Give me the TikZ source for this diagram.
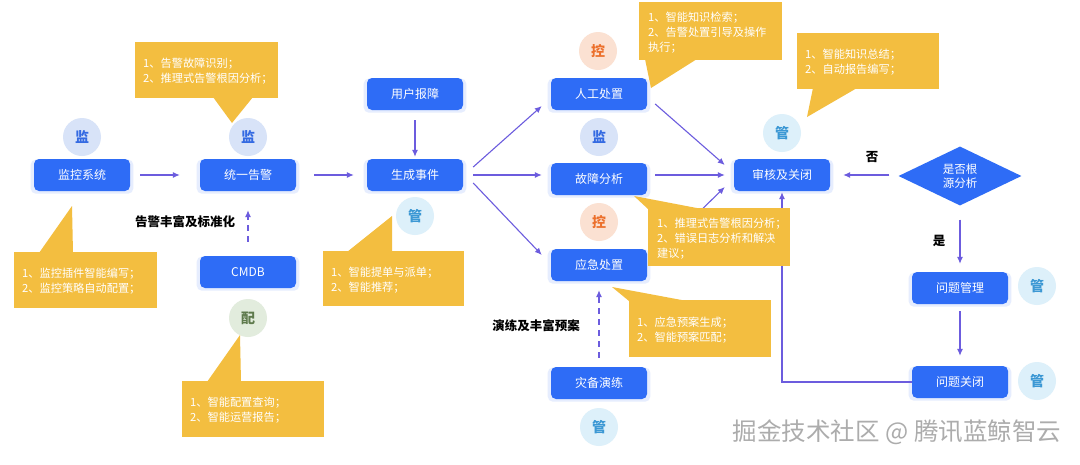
\documentclass[tikz,border=0pt]{standalone}
\usepackage{fontspec}
\setmainfont{Noto Sans CJK SC}
\usetikzlibrary{shapes.geometric,calc,shadows,arrows.meta}
\definecolor{boxblue}{RGB}{46,108,246}
\definecolor{arrowpurple}{RGB}{108,92,222}
\definecolor{calloutyellow}{RGB}{243,190,64}
\definecolor{watchfill}{RGB}{216,227,248}
\definecolor{watchtext}{RGB}{52,106,226}
\definecolor{managefill}{RGB}{221,240,250}
\definecolor{managetext}{RGB}{60,152,212}
\definecolor{controlfill}{RGB}{251,225,210}
\definecolor{controltext}{RGB}{236,112,44}
\definecolor{configfill}{RGB}{226,236,221}
\definecolor{configtext}{RGB}{94,122,76}
\tikzset{
    stagebox/.style={fill=boxblue, text=white, rounded corners=5pt,
        minimum width=96pt, minimum height=32pt, inner sep=0pt,
        font=\fontsize{12}{14}\selectfont,
        general shadow={fill=boxblue!12, shadow scale=1.07, shadow yshift=-1.5pt}},
    badge/.style={circle, minimum size=38pt, inner sep=0pt,
        font=\bfseries\fontsize{14}{14}\selectfont},
    watchbadge/.style={badge, fill=watchfill, text=watchtext},
    managebadge/.style={badge, fill=managefill, text=managetext},
    controlbadge/.style={badge, fill=controlfill, text=controltext},
    configbadge/.style={badge, fill=configfill, text=configtext},
    callout/.style={fill=calloutyellow},
    callouttext/.style={text=white, align=left, anchor=north west, inner sep=0pt,
        font=\fontsize{11.2}{15}\selectfont},
    steplabel/.style={font=\bfseries\fontsize{12.5}{12.5}\selectfont},
    arr/.style={draw=arrowpurple, line width=1.1pt, -{Latex[length=7pt,width=6pt]}},
    dasharr/.style={arr, dash pattern=on 6pt off 5pt}
}
\begin{document}
\begin{tikzpicture}[x=1pt,y=-1pt]
    \fill[white] (0,0) rectangle (1080,464);
    \useasboundingbox (0,0) rectangle (1080,464);

    \node[stagebox] (mon) at (82,175) {监控系统};
    \node[stagebox] (alarm) at (248,175) {统一告警};
    \node[stagebox] (cmdb) at (248,272) {CMDB};
    \node[stagebox] (report) at (415,94) {用户报障};
    \node[stagebox] (evt) at (415,175) {生成事件};
    \node[stagebox] (manual) at (599,94) {人工处置};
    \node[stagebox] (diag) at (599,179) {故障分析};
    \node[stagebox] (emer) at (599,265) {应急处置};
    \node[stagebox] (drill) at (599,383) {灾备演练};
    \node[stagebox] (review) at (782,175) {审核及关闭};
    \node[diamond, aspect=2, fill=boxblue, text=white, minimum width=123pt,
        minimum height=59pt, inner sep=0pt, align=center,
        font=\fontsize{11.5}{14}\selectfont] (root) at (960,176) {是否根\\源分析};
    \node[stagebox] (pm) at (960,288) {问题管理};
    \node[stagebox] (pc) at (960,382) {问题关闭};

    \node[watchbadge] (b1) at (82,137) {监};
    \node[watchbadge] (b2) at (248,137) {监};
    \node[managebadge] (b3) at (415,216) {管};
    \node[controlbadge] (b4) at (598,51) {控};
    \node[watchbadge] (b5) at (599,137) {监};
    \node[controlbadge] (b6) at (599,222) {控};
    \node[managebadge] (b7) at (599,427) {管};
    \node[managebadge] (b8) at (782,133) {管};
    \node[managebadge] (b9) at (1037,286) {管};
    \node[managebadge] (b10) at (1037,381) {管};
    \node[configbadge] (b11) at (248,318) {配};

    \draw[arr, shorten <=10pt, shorten >=20pt] (mon) -- (alarm);
    \draw[arr, shorten <=18pt, shorten >=13pt] (alarm) -- (evt);
    \draw[arr, shorten <=10pt, shorten >=2pt] (report) -- (evt);
    \draw[arr] ($(evt.east)+(10,-8)$) -- ($(manual.west)+(-9,12)$);
    \draw[arr] ($(evt.east)+(10,0)$) -- ($(diag.west)+(-9,-4)$);
    \draw[arr] ($(evt.east)+(10,8)$) -- ($(emer.west)+(-9,-10)$);
    \draw[arr] ($(manual.east)+(8,10)$) -- ($(review.west)+(-9,-10)$);
    \draw[arr] ($(diag.east)+(8,-4)$) -- ($(review.west)+(-9,0)$);
    \draw[arr] ($(emer.east)+(8,-10)$) -- ($(review.west)+(-9,12)$);
    \draw[arr] ($(root.west)+(-9,-1)$) -- ($(review.east)+(13,0)$);
    \draw[arr, shorten <=14pt, shorten >=8pt] (root.south) -- (pm.north);
    \draw[arr, shorten <=7pt, shorten >=10pt] (pm) -- (pc);
    \draw[arr, shorten >=1pt] (pc.west) -| (review.south);
    \draw[dasharr, shorten <=14pt, shorten >=19pt] (cmdb.north) -- (alarm.south);
    \draw[dasharr, shorten <=9pt, shorten >=9pt] (drill.north) -- (emer.south);

    \fill[callout] (135,42) rectangle (278,98);
    \fill[callout] (213,97) -- (253,97) -- (232,123) -- cycle;
    \node[callouttext] (c1) at (143,57.5) {1、告警故障识别；\\2、推理式告警根因分析；};
    \fill[callout] (14,252) rectangle (157,308);
    \fill[callout] (39,253) -- (73,253) -- (72,206) -- cycle;
    \node[callouttext] (c2) at (22,267.5) {1、监控插件智能编写；\\2、监控策略自动配置；};
    \fill[callout] (182,381) rectangle (324,437);
    \fill[callout] (207,382) -- (241,382) -- (240,335) -- cycle;
    \node[callouttext] (c3) at (190,396.5) {1、智能配置查询；\\2、智能运营报告；};
    \fill[callout] (323,251) rectangle (464,306);
    \fill[callout] (347,252) -- (392,252) -- (392,216) -- cycle;
    \node[callouttext] (c4) at (331,266.5) {1、智能提单与派单；\\2、智能推荐；};
    \fill[callout] (639,2) rectangle (782,60);
    \fill[callout] (645,59) -- (697,59) -- (651,88) -- cycle;
    \node[callouttext] (c5) at (648,11.5) {1、智能知识检索；\\2、告警处置引导及操作\\执行；};
    \fill[callout] (797,33) rectangle (939,89);
    \fill[callout] (813,88) -- (857,88) -- (807,117) -- cycle;
    \node[callouttext] (c6) at (805,48.5) {1、智能知识总结；\\2、自动报告编写；};
    \fill[callout] (648,208) rectangle (790,266);
    \fill[callout] (634,196) -- (648,209) -- (702,209) -- cycle;
    \node[callouttext] (c7) at (657,217.5) {1、推理式告警根因分析；\\2、错误日志分析和解决\\建议；};
    \fill[callout] (629,300) rectangle (771,357);
    \fill[callout] (612,287) -- (629,301) -- (687,301) -- cycle;
    \node[callouttext] (c8) at (637,316.5) {1、应急预案生成；\\2、智能预案匹配；};

    \node[steplabel] (l1) at (185,222) {告警丰富及标准化};
    \node[steplabel] (l2) at (536,326) {演练及丰富预案};
    \node[steplabel] (l3) at (872,157) {否};
    \node[steplabel] (l4) at (939,241) {是};

    \node[text=gray!65, font=\fontsize{24.5}{24.5}\selectfont] (mark) at (897,432) {掘金技术社区 @ 腾讯蓝鲸智云};
\end{tikzpicture}
\end{document}
